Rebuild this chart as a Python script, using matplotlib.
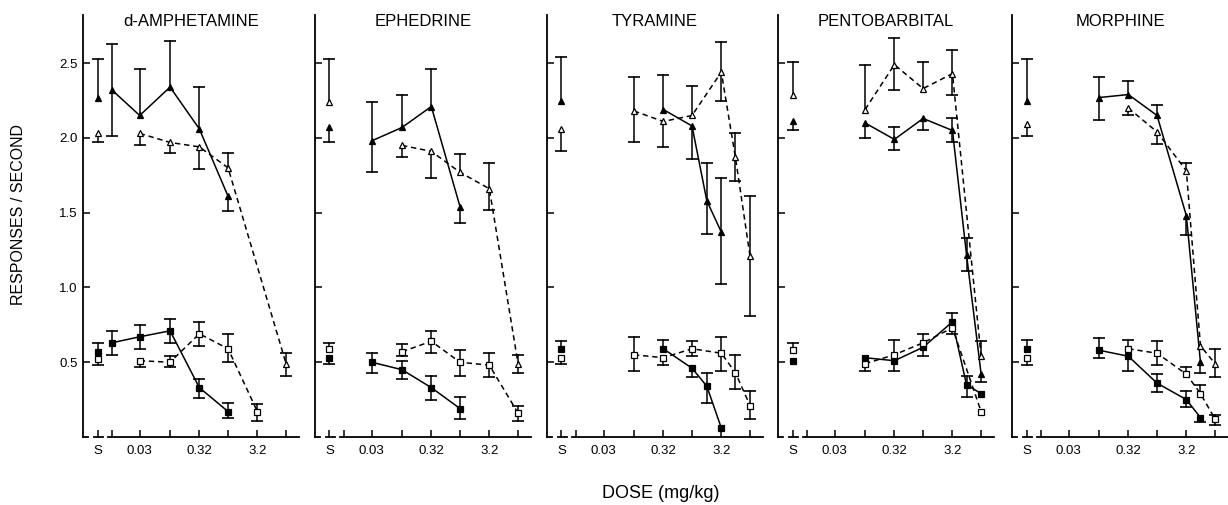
import numpy as np
import matplotlib
matplotlib.use('Agg')
import matplotlib.pyplot as plt

plt.rcParams['font.family'] = ['Liberation Sans', 'DejaVu Sans']

# each entry: (dose, mean, lower end of bar, upper end of bar); None = no bar on that side
DRUGS = ['d-AMPHETAMINE', 'EPHEDRINE', 'TYRAMINE', 'PENTOBARBITAL', 'MORPHINE']

AMPH_TRI_F = [('S', 2.27, None, 2.53), (0.01, 2.32, 2.01, 2.63), (0.03, 2.15, None, 2.46),
              (0.1, 2.34, None, 2.65), (0.32, 2.06, None, 2.34), (1.0, 1.61, 1.51, None)]
AMPH_TRI_O = [('S', 2.03, 1.97, None), (0.03, 2.03, 1.95, None), (0.1, 1.97, 1.90, None),
              (0.32, 1.94, 1.79, None), (1.0, 1.80, None, 1.90), (10, 0.49, 0.41, 0.56)]
AMPH_SQ_F = [('S', 0.57, None, 0.63), (0.01, 0.63, 0.55, 0.71), (0.03, 0.67, 0.59, 0.75),
             (0.1, 0.71, 0.63, 0.79), (0.32, 0.33, 0.26, 0.39), (1.0, 0.17, 0.13, 0.23)]
AMPH_SQ_O = [('S', 0.52, 0.48, None), (0.03, 0.51, 0.47, None), (0.1, 0.50, 0.47, 0.54),
             (0.32, 0.69, 0.61, 0.77), (1.0, 0.59, 0.50, 0.69), (3.2, 0.17, 0.11, 0.22)]

EPH_TRI_F = [('S', 2.07, 1.97, None), (0.03, 1.98, 1.77, 2.24), (0.1, 2.07, None, 2.29),
             (0.32, 2.21, None, 2.46), (1.0, 1.54, 1.43, None)]
EPH_TRI_O = [('S', 2.24, None, 2.53), (0.1, 1.95, 1.87, None), (0.32, 1.91, 1.73, None),
             (1.0, 1.77, None, 1.89), (3.2, 1.66, 1.52, 1.83), (10, 0.49, 0.43, 0.55)]
EPH_SQ_F = [('S', 0.53, 0.49, None), (0.03, 0.50, 0.43, 0.56), (0.1, 0.45, 0.39, 0.51),
            (0.32, 0.33, 0.25, 0.41), (1.0, 0.19, 0.12, 0.27)]
EPH_SQ_O = [('S', 0.59, None, 0.63), (0.1, 0.57, 0.54, 0.62), (0.32, 0.64, 0.56, 0.71),
            (1.0, 0.50, 0.41, 0.58), (3.2, 0.48, 0.40, 0.56), (10, 0.16, 0.11, 0.21)]

TYR_TRI_F = [('S', 2.25, None, 2.54), (0.32, 2.19, None, 2.42), (1.0, 2.08, 1.86, None),
             (1.8, 1.58, 1.36, 1.83), (3.2, 1.37, 1.02, 1.73)]
TYR_TRI_O = [('S', 2.06, 1.91, None), (0.1, 2.18, 1.97, 2.41), (0.32, 2.11, 1.94, None),
             (1.0, 2.15, None, 2.35), (3.2, 2.44, 2.25, 2.64), (5.6, 1.87, 1.71, 2.03),
             (10, 1.21, 0.81, 1.61)]
TYR_SQ_F = [('S', 0.59, None, 0.64), (0.32, 0.59, None, 0.65), (1.0, 0.46, 0.40, None),
            (1.8, 0.34, 0.23, 0.43), (3.2, 0.06, None, None)]
TYR_SQ_O = [('S', 0.53, 0.49, None), (0.1, 0.55, 0.44, 0.67), (0.32, 0.53, 0.48, None),
            (1.0, 0.59, 0.54, 0.64), (3.2, 0.56, 0.44, 0.67), (5.6, 0.43, 0.32, 0.55),
            (10, 0.21, 0.12, 0.31)]

PENT_TRI_F = [('S', 2.11, 2.05, None), (0.1, 2.10, 2.00, None), (0.32, 1.99, 1.92, 2.07),
              (1.0, 2.13, 2.05, None), (3.2, 2.05, 1.97, 2.13), (5.6, 1.22, 1.11, 1.33),
              (10, 0.42, 0.37, None)]
PENT_TRI_O = [('S', 2.29, None, 2.51), (0.1, 2.19, None, 2.49), (0.32, 2.49, 2.32, 2.67),
              (1.0, 2.33, None, 2.51), (3.2, 2.43, 2.29, 2.59), (10, 0.54, None, 0.64)]
PENT_SQ_F = [('S', 0.51, None, None), (0.1, 0.53, None, None), (0.32, 0.51, 0.44, None),
             (1.0, 0.60, 0.54, None), (3.2, 0.77, None, 0.83), (5.6, 0.35, 0.27, 0.41),
             (10, 0.29, None, None)]
PENT_SQ_O = [('S', 0.58, None, 0.63), (0.1, 0.49, 0.44, None), (0.32, 0.55, None, 0.65),
             (1.0, 0.63, None, 0.69), (3.2, 0.73, 0.69, None), (10, 0.17, None, None)]

MORPH_TRI_F = [('S', 2.25, None, 2.53), (0.1, 2.27, 2.12, 2.41), (0.32, 2.29, None, 2.38),
               (1.0, 2.15, None, 2.22), (3.2, 1.48, 1.35, None), (5.6, 0.50, 0.43, None)]
MORPH_TRI_O = [('S', 2.09, 2.01, None), (0.32, 2.20, 2.15, None), (1.0, 2.04, 1.96, None),
               (3.2, 1.78, None, 1.83), (5.6, 0.61, None, None), (10, 0.49, 0.40, 0.59)]
MORPH_SQ_F = [('S', 0.59, None, 0.65), (0.1, 0.58, 0.53, 0.66), (0.32, 0.54, 0.44, None),
              (1.0, 0.36, 0.30, 0.42), (3.2, 0.25, 0.20, 0.31), (5.6, 0.13, 0.10, None)]
MORPH_SQ_O = [('S', 0.53, 0.48, None), (0.32, 0.59, None, 0.65), (1.0, 0.56, 0.48, 0.64),
              (3.2, 0.42, None, 0.47), (5.6, 0.29, None, 0.35), (10, 0.12, 0.08, 0.15)]

PANELS = [
    (AMPH_TRI_F, AMPH_TRI_O, AMPH_SQ_F, AMPH_SQ_O),
    (EPH_TRI_F, EPH_TRI_O, EPH_SQ_F, EPH_SQ_O),
    (TYR_TRI_F, TYR_TRI_O, TYR_SQ_F, TYR_SQ_O),
    (PENT_TRI_F, PENT_TRI_O, PENT_SQ_F, PENT_SQ_O),
    (MORPH_TRI_F, MORPH_TRI_O, MORPH_SQ_F, MORPH_SQ_O),
]

TICK_DOSES = [0.01, 0.03, 0.1, 0.32, 1.0, 3.2, 10]
TICK_LABELS = ['S', '', '0.03', '', '0.32', '', '3.2', '']
Y_TICKS = [0.5, 1.0, 1.5, 2.0, 2.5]


def xpos(d):
    if d == 'S':
        return -0.5
    return 2 * np.log10(d / 0.01)


def draw_series(ax, series, marker, filled, dashed):
    face = 'black' if filled else 'white'
    for d, m, lo, hi in series:
        x = xpos(d)
        bot = lo if lo is not None else m
        top = hi if hi is not None else m
        if bot != top:
            ax.plot([x, x], [bot, top], color='black', lw=1.1, zorder=2)
        for e in (lo, hi):
            if e is not None:
                ax.plot([x], [e], marker='_', ms=8, mew=1.2, color='black', zorder=2)
    pts = [(xpos(d), m) for d, m, lo, hi in series if d != 'S']
    xs = [p[0] for p in pts]
    ys = [p[1] for p in pts]
    ls = (0, (3.5, 2.5)) if dashed else '-'
    ax.plot(xs, ys, ls=ls, color='black', lw=1.1, zorder=3)
    allx = [xpos(d) for d, m, lo, hi in series]
    ally = [m for d, m, lo, hi in series]
    ax.plot(allx, ally, ls='none', marker=marker, ms=4.5, mfc=face, mec='black',
            mew=0.9, zorder=4)


fig = plt.figure(figsize=(12.28, 5.05), dpi=100)
lefts = [0.0676, 0.2565, 0.4454, 0.6336, 0.8241]
W = 0.176
B = 0.1347
H = 0.835

for i, (name, (tf, to, sf, so)) in enumerate(zip(DRUGS, PANELS)):
    ax = fig.add_axes([lefts[i], B, W, H])
    ax.set_xlim(-1.0, 6.45)
    ax.set_ylim(0, 2.82)
    for s in ['top', 'right', 'bottom']:
        ax.spines[s].set_visible(False)
    ax.spines['left'].set_linewidth(1.3)
    # broken baseline near the saline point
    for a, b in [(-1.0, -0.82), (-0.62, -0.3), (-0.14, 6.45)]:
        ax.plot([a, b], [0, 0], color='black', lw=1.3, clip_on=False,
                transform=ax.get_xaxis_transform())

    draw_series(ax, tf, '^', True, False)
    draw_series(ax, to, '^', False, True)
    draw_series(ax, sf, 's', True, False)
    draw_series(ax, so, 's', False, True)

    ax.set_xticks([-0.5] + [xpos(d) for d in TICK_DOSES])
    ax.set_xticklabels(TICK_LABELS, fontsize=9.5)
    ax.set_yticks(Y_TICKS)
    if i == 0:
        ax.set_yticklabels(['0.5', '1.0', '1.5', '2.0', '2.5'], fontsize=9.5)
    else:
        ax.set_yticklabels([])
    ax.tick_params(axis='both', direction='in', length=5, width=1.1)
    ax.tick_params(axis='x', pad=6)
    ax.tick_params(axis='y', pad=4)
    ax.text(0.5, 1.003, name, transform=ax.transAxes, ha='center', va='top', fontsize=12)

fig.text(0.015, 0.575, 'RESPONSES / SECOND', rotation=90, ha='center', va='center', fontsize=11.5)
fig.text(0.538, 0.022, 'DOSE (mg/kg)', ha='center', va='center', fontsize=13)

fig.savefig('out.png', dpi=100, facecolor='white')
